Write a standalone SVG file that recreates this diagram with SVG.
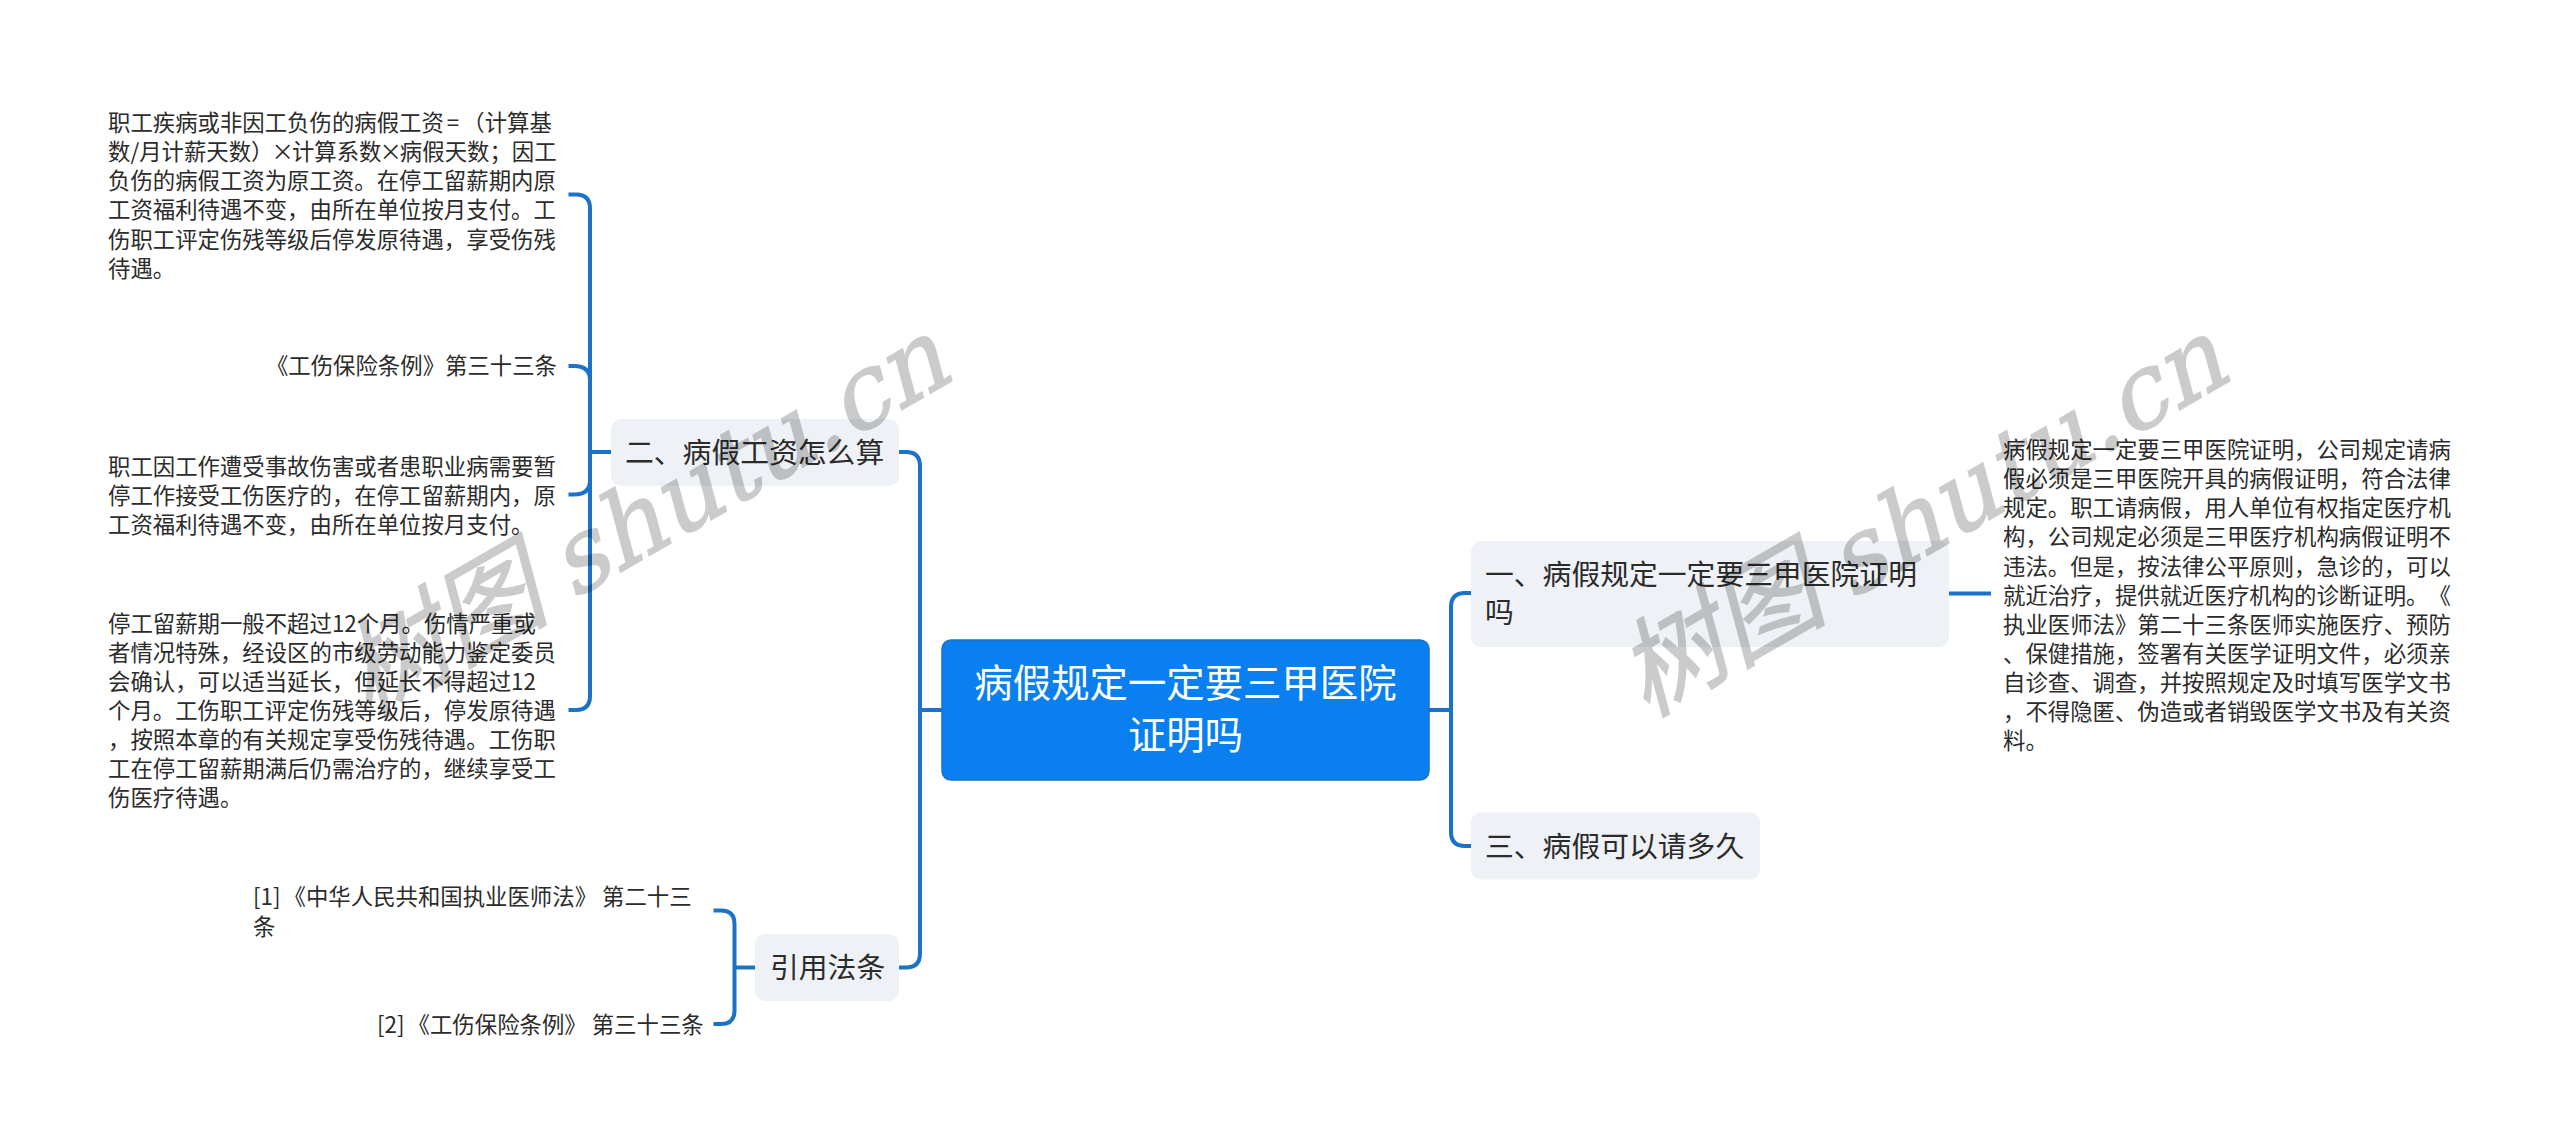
<svg xmlns="http://www.w3.org/2000/svg" width="2560" height="1147" viewBox="0 0 2560 1147">
<style>
text{font-family:"Noto Sans CJK SC","Microsoft YaHei",sans-serif;fill:#2b2b2b;text-spacing-trim:space-all}
.s{font-size:22.4px}
.m{font-size:28.8px}
.r{font-size:38.4px;fill:#fff;text-anchor:middle}
.e{text-anchor:end}
.b{fill:#eef1f5}
.c{fill:none;stroke:#1a73c8;stroke-width:4;stroke-linecap:butt}
text.w{font-family:"Noto Sans CJK SC",serif;font-size:106px;fill:#000;stroke:#000;stroke-width:1.500;opacity:.2}
tspan.l{font-family:"DejaVu Serif",serif;font-size:101px}
</style>
<rect width="2560" height="1147" fill="#fff"/>
<g id="connectors">
<path class="c" d="M899 452H906Q920 452 920 466V953.500Q920 967.500 906 967.500H899"/>
<path class="c" d="M942 710H920"/>
<path class="c" d="M1429 710H1451"/>
<path class="c" d="M1471 593H1465Q1451 593 1451 607V832Q1451 846 1465 846H1471"/>
<path class="c" d="M1949 593.500H1991"/>
<path class="c" d="M611 452H590"/>
<path class="c" d="M568.500 194.500H576Q590 194.500 590 208.500V696Q590 710 576 710H568.500"/>
<path class="c" d="M568.500 366H574Q590 366 590 380"/>
<path class="c" d="M568.500 494.500H574Q590 494.500 590 480.500"/>
<path class="c" d="M755 967.500H734.500"/>
<path class="c" d="M713.500 910.500H721Q734.500 910.500 734.500 924V1010.500Q734.500 1024 721 1024H713.500"/>
</g>
<g id="root">
<rect x="942" y="640" width="487" height="140" rx="9" fill="#0a80f0" stroke="#1a73c8" stroke-width="1.500"/>
<text class="r" x="1185.500" y="697">病假规定一定要三甲医院</text>
<text class="r" x="1185.500" y="749">证明吗</text>
</g>
<g id="node-1">
<rect class="b" x="1471" y="541" width="478" height="106" rx="10"/>
<text class="m" x="1485" y="585">一、病假规定一定要三甲医院证明</text>
<text class="m" x="1485" y="623">吗</text>
</g>
<g id="node-1-detail">
<text class="s" x="2003" y="458">病假规定一定要三甲医院证明，公司规定请病</text>
<text class="s" x="2003" y="487">假必须是三甲医院开具的病假证明，符合法律</text>
<text class="s" x="2003" y="516">规定。职工请病假，用人单位有权指定医疗机</text>
<text class="s" x="2003" y="545">构，公司规定必须是三甲医疗机构病假证明不</text>
<text class="s" x="2003" y="574.500">违法。但是，按法律公平原则，急诊的，可以</text>
<text class="s" x="2003" y="603.500">就近治疗，提供就近医疗机构的诊断证明。《</text>
<text class="s" x="2003" y="632.500">执业医师法》第二十三条医师实施医疗、预防</text>
<text class="s" x="2003" y="661.500">、保健措施，签署有关医学证明文件，必须亲</text>
<text class="s" x="2003" y="690.500">自诊查、调查，并按照规定及时填写医学文书</text>
<text class="s" x="2003" y="719.500">，不得隐匿、伪造或者销毁医学文书及有关资</text>
<text class="s" x="2003" y="748.500">料。</text>
</g>
<g id="node-3">
<rect class="b" x="1471" y="812.500" width="289" height="67" rx="10"/>
<text class="m" x="1485" y="856.500">三、病假可以请多久</text>
</g>
<g id="node-2">
<rect class="b" x="611" y="419" width="288" height="67" rx="10"/>
<text class="m" x="625" y="462.500">二、病假工资怎么算</text>
</g>
<g id="node-2-a">
<text class="s" x="108" y="130.500">职工疾病或非因工负伤的病假工资<tspan dx="3">=</tspan><tspan dx="3">（计算基</tspan></text>
<text class="s" x="108" y="160">数/月计薪天数）<tspan dx="-2">×</tspan><tspan dx="-2">计算系数</tspan><tspan dx="-2">×</tspan><tspan dx="-2">病假天数；因工</tspan></text>
<text class="s" x="108" y="189">负伤的病假工资为原工资。在停工留薪期内原</text>
<text class="s" x="108" y="218">工资福利待遇不变，由所在单位按月支付。工</text>
<text class="s" x="108" y="247.500">伤职工评定伤残等级后停发原待遇，享受伤残</text>
<text class="s" x="108" y="276.500">待遇。</text>
</g>
<g id="node-2-b">
<text class="s e" x="557" y="374">《工伤保险条例》第三十三条</text>
</g>
<g id="node-2-c">
<text class="s" x="108" y="474.500">职工因工作遭受事故伤害或者患职业病需要暂</text>
<text class="s" x="108" y="504">停工作接受工伤医疗的，在停工留薪期内，原</text>
<text class="s" x="108" y="533">工资福利待遇不变，由所在单位按月支付。</text>
</g>
<g id="node-2-d">
<text class="s" x="108" y="631.500">停工留薪期一般不超过12个月。伤情严重或</text>
<text class="s" x="108" y="660.500">者情况特殊，经设区的市级劳动能力鉴定委员</text>
<text class="s" x="108" y="689.500">会确认，可以适当延长，但延长不得超过12</text>
<text class="s" x="108" y="718.500">个月。工伤职工评定伤残等级后，停发原待遇</text>
<text class="s" x="108" y="748">，按照本章的有关规定享受伤残待遇。工伤职</text>
<text class="s" x="108" y="777">工在停工留薪期满后仍需治疗的，继续享受工</text>
<text class="s" x="108" y="806">伤医疗待遇。</text>
</g>
<g id="node-4">
<rect class="b" x="755" y="934" width="144" height="67" rx="10"/>
<text class="m" x="770" y="977.500">引用法条</text>
</g>
<g id="node-4-a">
<text class="s" x="253" y="905">[1]<tspan dx="3">《中华人民共和国执业医师法》 第二十三</tspan></text>
<text class="s" x="253" y="934.500">条</text>
</g>
<g id="node-4-b">
<text class="s" x="377" y="1033">[2]<tspan dx="3">《工伤保险条例》 第三十三条</tspan></text>
</g>
<g id="watermarks">
<text class="w" transform="translate(368 718) rotate(-30) skewX(-15)">树图 <tspan class="l">shutu.cn</tspan></text>
<text class="w" transform="translate(1646 718) rotate(-30) skewX(-15)">树图 <tspan class="l">shutu.cn</tspan></text>
</g>
</svg>
